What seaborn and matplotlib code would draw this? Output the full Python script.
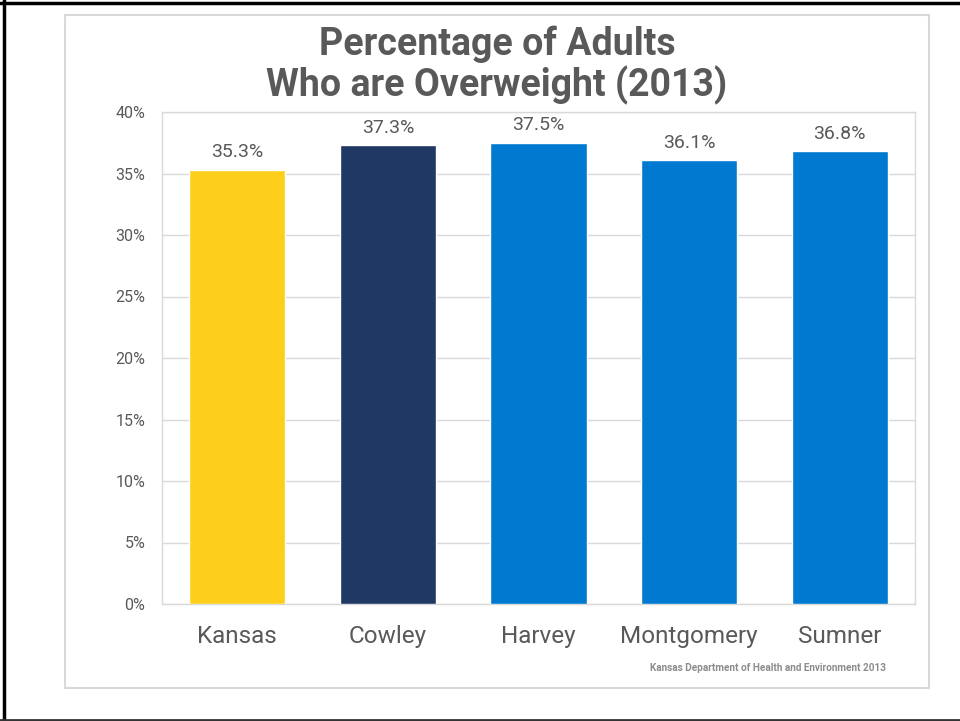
import matplotlib
matplotlib.use("Agg")
import matplotlib.pyplot as plt
import matplotlib.patches as mpatches
import matplotlib.lines as mlines
from matplotlib.ticker import FuncFormatter
import seaborn as sns
import pandas as pd

categories = ["Kansas", "Cowley", "Harvey", "Montgomery", "Sumner"]
values = [35.3, 37.3, 37.5, 36.1, 36.8]
bar_colors = ["#FDCF1B", "#1F3864", "#007AD0", "#007AD0", "#007AD0"]
y_ticks = [0, 5, 10, 15, 20, 25, 30, 35, 40]
title = "Percentage of Adults\nWho are Overweight (2013)"
source = "Kansas Department of Health and Environment 2013"

df = pd.DataFrame({"region": categories, "pct": values})

sns.set_theme(style="white")
plt.rcParams["font.family"] = ["Roboto", "DejaVu Sans"]

TXT = "#595959"
GRID = "#D9D9D9"

fig = plt.figure(figsize=(9.6, 7.21), dpi=100)
fig.patch.set_facecolor("white")

# outer dark frame (top, left, bottom)
fig.add_artist(mlines.Line2D([0, 1], [1 - 3 / 721, 1 - 3 / 721], color="black",
                             linewidth=2.5, transform=fig.transFigure))
fig.add_artist(mlines.Line2D([4 / 960, 4 / 960], [0, 1], color="black",
                             linewidth=2.5, transform=fig.transFigure))
fig.add_artist(mlines.Line2D([0, 1], [1.5 / 721, 1.5 / 721], color="#333333",
                             linewidth=2, transform=fig.transFigure))

# light gray chart-area box
fig.add_artist(mpatches.Rectangle((65 / 960, 1 - 688 / 721), (929 - 65) / 960,
                                  (688 - 15) / 721, fill=False, edgecolor=GRID,
                                  linewidth=1.5, transform=fig.transFigure))

ax = fig.add_axes([162 / 960, 1 - 604 / 721, (915 - 162) / 960, (604 - 112) / 721])

sns.barplot(data=df, x="region", y="pct", hue="region", palette=bar_colors,
            legend=False, width=0.64, saturation=1, ax=ax, zorder=3)

ax.set_ylim(0, 40)
ax.set_yticks(y_ticks)
ax.yaxis.set_major_formatter(FuncFormatter(lambda v, p: f"{int(v)}%"))
ax.grid(axis="y", color=GRID, linewidth=1, zorder=0)
ax.grid(axis="x", visible=False)
ax.set_axisbelow(True)
for s in ax.spines.values():
    s.set_color(GRID)
    s.set_linewidth(1)
    s.set_visible(True)

ax.set_xlabel("")
ax.set_ylabel("")
ax.tick_params(axis="y", length=0, pad=12, labelsize=11.5, labelcolor=TXT)
ax.tick_params(axis="x", length=0, pad=15, labelsize=17.5, labelcolor=TXT)

for cont in ax.containers:
    ax.bar_label(cont, fmt="%.1f%%", padding=6, fontsize=14, color=TXT)

fig.text(497 / 960, 1 - 65 / 721, title, ha="center", va="center",
         fontsize=27, fontweight="bold", color=TXT, linespacing=1.08)

fig.text(886 / 960, 1 - 668 / 721, source, ha="right", va="center",
         fontsize=7.2, fontweight="bold", color="#8C8C8C")

fig.savefig("out.png", dpi=100, facecolor="white")
